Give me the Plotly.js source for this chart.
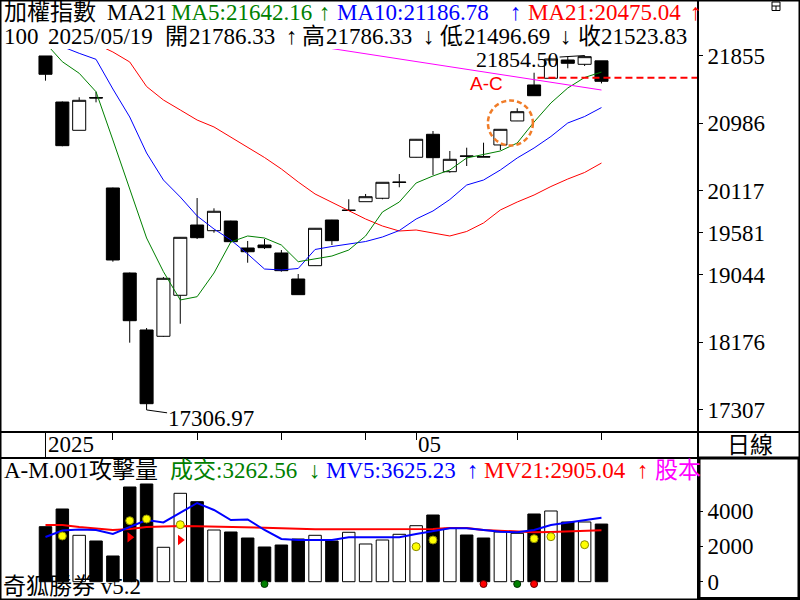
<!DOCTYPE html>
<html><head><meta charset="utf-8">
<script src="https://cdn.plot.ly/plotly-3.0.1.min.js"></script>
<style>html,body{margin:0;padding:0;background:#fff}#chart{width:800px;height:600px}</style>
</head><body><div id="chart"></div>
<script>
// ---------------- data ----------------
const dates = ['2025/03/28','2025/03/31','2025/04/01','2025/04/02','2025/04/07','2025/04/08','2025/04/09','2025/04/10','2025/04/11','2025/04/14','2025/04/15','2025/04/16','2025/04/17','2025/04/18','2025/04/21','2025/04/22','2025/04/23','2025/04/24','2025/04/25','2025/04/28','2025/04/29','2025/04/30','2025/05/02','2025/05/05','2025/05/06','2025/05/07','2025/05/08','2025/05/09','2025/05/12','2025/05/13','2025/05/14','2025/05/15','2025/05/16','2025/05/19'];
const opens  = [21849,21258,20895,21315,20155,19064,18333,18252,18778,19680,19607,19731,19385,19423,19321,18987,19158,19744,19866,19979,20023,20226,20549,20844,20364,20566,20557,20707,21015,21477,21563,21797,21742,21786.33];
const highs  = [21849,21265,21319,21390,20160,19070,18358,19012,19525,20026,19894,19735,19475,19500,19359,19051,19640,19746,20010,20078,20228,20334,20782,20886,20630,20672,20736,20910,21178,21634,21815,21839,21854.50,21786.33];
const lows   = [21532,20690,20895,21254,19209,18170,17306.97,18245,18413,19500,19581,19460,19196,19372,19081,18785,19155,19423,19866,19979,20010,20164,20546,20322,20351,20437,20553,20642,21014,21339,21560,21691,21720,21496.69];
const closes = [21614,20698,21280,21310,19231,18452,17387,18996,19522,19517,19856,19466,19337,19389,19094,18786,19638,19479,19870,20043,20228,20230,20780,20544,20523,20562,20553,20908,21134,21339,21810,21755,21840,21523.83];
const ma5  = [22015,21775,21627,21390,20771,20142,19513,19081,18718,18760,19064,19462,19539,19513,19423,19209,19244,19282,19359,19539,19847,19975,20219,20309,20386,20540,20585,20630,20732,21002,21246,21438,21573,21642.16];
const ma10 = [22054,21964,21883,21806,21425,21066,20604,20257,20039,19796,19629,19488,19308,19115,19103,19122,19366,19404,19436,19468,19526,19609,19757,19860,20007,20193,20257,20386,20540,20668,20816,20989,21072,21186.78];
const ma21 = [22388,22259,22131,22003,21900,21772,21457,21284,21156,21027,20938,20809,20681,20546,20399,20232,20078,19969,19866,19757,19667,19603,19616,19577,19539,19597,19706,19873,19975,20065,20174,20270,20354,20475.04];
const volumes = [3113,4115,2626,2304,1455,5360,5530,1947,5003,4528,2926,2813,2473,1964,2077,2417,2626,2304,2796,2134,2360,2683,3170,3775,3022,2643,2473,2813,2739,3832,4002,3379,3379,3262.56];
const mv5  = [2530,2898,2955,2926,2700,3096,3492,3351,3888,4454,4058,3492,3521,2926,2417,2360,2360,2360,2513,2513,2513,2513,2700,2870,3022,3022,2926,2830,2796,2926,3209,3351,3464,3625.23];
const mv21 = [3209,3209,3096,3022,2926,2983,3096,3124,3153,3136,3124,3113,3096,3056,3022,2983,2975,2972,2970,2970,2975,2978,2983,2983,3039,3039,2926,2870,2830,2796,2813,2830,2850,2905.04];
const yellowDates  = ['2025/03/31','2025/04/08','2025/04/09','2025/04/11','2025/05/02','2025/05/05','2025/05/13','2025/05/14','2025/05/16'];
const yellowValues = [2587,3453,3549,3226,1981,2360,2434,2547,2094];
const flagDates  = ['2025/04/08','2025/04/11'];
const flagValues = [2513,2360];
const greenDotDates = ['2025/04/18','2025/05/12'];
const redDotDates   = ['2025/05/08','2025/05/13'];
const bottomDotValue = -130;
const trendDates  = ['2025/04/23','2025/05/19'];
const trendValues = [21977,21412];
const acLevel = 21570;
const yTicks = [21855,20986,20117,19581,19044,18176,17307];
const volTicks = [0,2000,4000];
const xTickDates = ['2025/03/28','2025/04/07','2025/04/14','2025/04/21','2025/04/28','2025/05/02','2025/05/12','2025/05/19'];
const yearLabel = '2025', monthLabel = '05';

// ---------------- helpers ----------------
const xs = dates.map((d,i)=>i+1);
const idx = d => dates.indexOf(d)+1;
const N = dates.length;
const W = 800, H = 600;
const PX = px => px/W, PY = py => 1 - py/H;
const xRange = [-1.70, 39.67];
const SERIF = "'Liberation Serif', 'Noto Sans CJK TC', serif";
const FS = 23;
function txt(text, px, py, color, opt){
  opt = opt || {};
  return {text:text, x:PX(px), y:PY(py), xref:'paper', yref:'paper', xanchor:opt.xanchor||'left', yanchor:'middle',
    showarrow:false, borderpad:0, font:{family:opt.family||SERIF, size:opt.size||FS, color:color}};
}
const last = N-1;
const GREEN = '#008000', BLUE = '#0000ff', RED = '#ff0000', MAG = '#ff00ff';

const traces = [
  {type:'candlestick', x:xs, open:opens, high:highs, low:lows, close:closes, xaxis:'x', yaxis:'y',
   increasing:{line:{color:'#000', width:1}, fillcolor:'#fff'},
   decreasing:{line:{color:'#000', width:1}, fillcolor:'#000'}, whiskerwidth:0, hoverinfo:'skip'},
  {type:'scatter', mode:'lines', x:xs, y:ma21, line:{color:RED, width:1}, xaxis:'x', yaxis:'y', hoverinfo:'skip'},
  {type:'scatter', mode:'lines', x:xs, y:ma10, line:{color:BLUE, width:1}, xaxis:'x', yaxis:'y', hoverinfo:'skip'},
  {type:'scatter', mode:'lines', x:xs, y:ma5, line:{color:GREEN, width:1}, xaxis:'x', yaxis:'y', hoverinfo:'skip'},
  {type:'scatter', mode:'lines', x:trendDates.map(idx), y:trendValues, line:{color:MAG, width:1}, xaxis:'x', yaxis:'y', hoverinfo:'skip'},
  // volume
  {type:'bar', x:xs, y:volumes, width:0.74, xaxis:'x', yaxis:'y2',
   marker:{color:xs.map((x,i)=>closes[i]>opens[i]?'#fff':'#000'), line:{color:'#000', width:1}}, hoverinfo:'skip'},
  {type:'scatter', mode:'lines', x:xs, y:mv21, line:{color:RED, width:2}, xaxis:'x', yaxis:'y2', hoverinfo:'skip'},
  {type:'scatter', mode:'lines', x:xs, y:mv5, line:{color:BLUE, width:2}, xaxis:'x', yaxis:'y2', hoverinfo:'skip'},
  {type:'scatter', mode:'markers', x:yellowDates.map(idx), y:yellowValues, xaxis:'x', yaxis:'y2',
   marker:{color:'#ffff00', size:8, line:{color:'#8a8a00', width:1}}, hoverinfo:'skip', cliponaxis:false},
  {type:'scatter', mode:'markers', x:flagDates.map(idx), y:flagValues, xaxis:'x', yaxis:'y2',
   marker:{color:RED, size:9, symbol:'triangle-right'}, hoverinfo:'skip'},
  {type:'scatter', mode:'markers', x:greenDotDates.map(idx), y:greenDotDates.map(()=>bottomDotValue), xaxis:'x', yaxis:'y2',
   marker:{color:'#008000', size:7, line:{color:'#003000', width:1}}, hoverinfo:'skip'},
  {type:'scatter', mode:'markers', x:redDotDates.map(idx), y:redDotDates.map(()=>bottomDotValue), xaxis:'x', yaxis:'y2',
   marker:{color:'#ff0000', size:7, line:{color:'#600000', width:1}}, hoverinfo:'skip'}
];

const xDomEnd = 697/W;
const layout = {
  width:W, height:H, margin:{l:0,r:0,t:0,b:0}, paper_bgcolor:'#fff', plot_bgcolor:'#fff',
  showlegend:false, boxgap:0.12, boxgroupgap:0.12, hovermode:false,
  xaxis:{domain:[0,xDomEnd], range:xRange, anchor:'y', rangeslider:{visible:false}, showgrid:false, zeroline:false,
    showline:false, ticks:'outside', ticklen:7, tickwidth:1, tickcolor:'#000', showticklabels:false,
    tickmode:'array', tickvals:xTickDates.map(idx), fixedrange:true},
  yaxis:{domain:[PY(432), PY(49)], range:[17023.8, 21938.4], side:'right', anchor:'x', showgrid:false, zeroline:false,
    showline:false, ticks:'outside', ticklen:5, tickwidth:1, tickcolor:'#000', tickmode:'array', tickvals:yTicks,
    ticktext:yTicks.map(String), tickfont:{family:SERIF, size:FS, color:'#000'}, automargin:false},
  yaxis2:{domain:[PY(598), PY(458)], range:[-923, 7001], side:'right', anchor:'x', showgrid:false, zeroline:false,
    showline:false, ticks:'outside', ticklen:5, tickwidth:1, tickcolor:'#000', tickmode:'array', tickvals:volTicks,
    ticktext:volTicks.map(String), tickfont:{family:SERIF, size:FS, color:'#000'}, automargin:false},
  shapes:[
    // frames
    {type:'rect', xref:'paper', yref:'paper', x0:0, x1:1, y0:0, y1:1, line:{color:'#000', width:3}},
    {type:'line', xref:'paper', yref:'paper', x0:PX(698), x1:PX(698), y0:0, y1:1, line:{color:'#000', width:2}},
    {type:'line', xref:'paper', yref:'paper', x0:0, x1:1, y0:PY(432), y1:PY(432), line:{color:'#000', width:2}},
    {type:'line', xref:'paper', yref:'paper', x0:0, x1:1, y0:PY(458), y1:PY(458), line:{color:'#000', width:2}},
    {type:'rect', xref:'paper', yref:'paper', x0:PX(699), x1:PX(799), y0:PY(598.5), y1:PY(458), line:{color:'#000', width:3}},
    {type:'line', xref:'x', yref:'paper', x0:idx(xTickDates[0]), x1:idx(xTickDates[0]), y0:PY(458), y1:PY(432), line:{color:'#000', width:1}},
    // icon
    {type:'rect', xref:'paper', yref:'paper', x0:PX(772), x1:PX(780), y0:PY(10.5), y1:PY(2), line:{color:'#000', width:1}},
    {type:'line', xref:'paper', yref:'paper', x0:PX(772), x1:PX(780), y0:PY(6), y1:PY(6), line:{color:'#000', width:1}},
    {type:'line', xref:'paper', yref:'paper', x0:PX(776), x1:PX(776), y0:PY(6), y1:PY(10.5), line:{color:'#000', width:1}},
    // A-C level line
    {type:'line', xref:'x', yref:'y', x0:idx('2025/05/13')+0.2, x1:xRange[1], y0:acLevel, y1:acLevel, line:{color:RED, width:2, dash:'7px,4px'}},
    // orange circle
    {type:'circle', xref:'x', yref:'y', x0:27.26, x1:29.93, y0:20700, y1:21277, line:{color:'#f07c28', width:2.5, dash:'5px,3px'}}
  ],
  annotations:[
    // header line 1
    txt('加權指數', 3, 12, '#000'),
    txt('MA21', 106, 12, '#000'),
    txt('MA5:'+ma5[last].toFixed(2), 170, 12, GREEN),
    txt('↑', 318, 12, GREEN),
    txt('MA10:'+ma10[last].toFixed(2), 336, 12, BLUE),
    txt('↑', 509, 12, BLUE),
    txt('MA21:'+ma21[last].toFixed(2), 527, 12, RED),
    txt('↑', 689, 12, RED),
    // header line 2
    txt('100', 3, 36, '#000'),
    txt(dates[last], 47, 36, '#000'),
    txt('開', 164, 36, '#000'),
    txt(opens[last].toFixed(2), 188, 36, '#000'),
    txt('↑', 285, 36, '#000'),
    txt('高', 301, 36, '#000'),
    txt(highs[last].toFixed(2), 325, 36, '#000'),
    txt('↓', 422, 36, '#000'),
    txt('低', 439, 36, '#000'),
    txt(lows[last].toFixed(2), 463, 36, '#000'),
    txt('↓', 559, 36, '#000'),
    txt('收', 577, 36, '#000'),
    txt(closes[last].toFixed(2), 600, 36, '#000'),
    // labels in chart
    {text:'17306.97', x:idx('2025/04/09'), y:17306.97, xref:'x', yref:'y', showarrow:true, arrowhead:0, arrowwidth:1,
     arrowcolor:'#000', ax:64, ay:9, standoff:0, borderpad:0, font:{family:SERIF, size:FS, color:'#000'}},
    {text:'21854.50', x:idx('2025/05/16'), y:21854.50, xref:'x', yref:'y', showarrow:true, arrowhead:0, arrowwidth:1,
     arrowcolor:'#000', ax:-67, ay:4, standoff:0, borderpad:0, font:{family:SERIF, size:22, color:'#000'}},
    txt('A-C', 469, 83.5, RED, {family:"'Liberation Sans', Arial, sans-serif", size:19}),
    // date strip
    txt(yearLabel, 47, 444, '#000'),
    txt(monthLabel, 417, 444, '#000'),
    txt('日線', 750, 445, '#000', {xanchor:'center'}),
    // volume header
    txt('A-M.001攻擊量', 3, 470, '#000'),
    txt('成交:'+volumes[last].toFixed(2), 169, 470, GREEN),
    txt('↓', 308, 470, GREEN),
    txt('MV5:'+mv5[last].toFixed(2), 325, 470, BLUE),
    txt('↑', 466, 470, BLUE),
    txt('MV21:'+mv21[last].toFixed(2), 483, 470, RED),
    txt('↑', 636, 470, RED),
    txt('股本', 654, 470, MAG),
    txt('奇狐勝券 v5.2', 2, 586, '#000')
  ]
};

Plotly.newPlot('chart', traces, layout, {displayModeBar:false, staticPlot:true});
</script>
</body></html>
